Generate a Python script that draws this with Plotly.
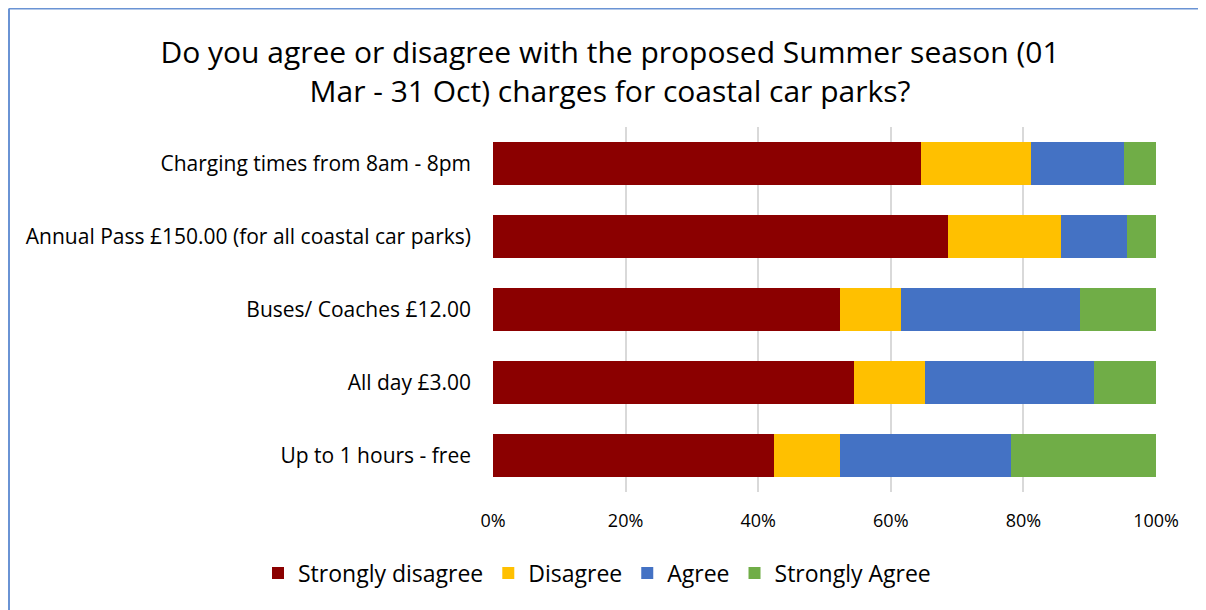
import plotly.graph_objects as go

# Datos (porcentaje de respuestas)
categorias = [
    "Charging times from 8am - 8pm",
    "Annual Pass £150.00 (for all coastal car parks)",
    "Buses/ Coaches £12.00",
    "All day £3.00",
    "Up to 1 hours - free",
]
muy_desacuerdo = [64.6, 68.7, 52.3, 54.5, 42.4]
desacuerdo = [16.5, 16.9, 9.3, 10.6, 9.9]
acuerdo = [14.0, 10.1, 26.9, 25.5, 25.8]
muy_acuerdo = [4.9, 4.3, 11.5, 9.4, 21.9]

series = [
    ("Strongly disagree", muy_desacuerdo, "#8B0000"),
    ("Disagree", desacuerdo, "#FFC000"),
    ("Agree", acuerdo, "#4472C4"),
    ("Strongly Agree", muy_acuerdo, "#70AD47"),
]

fuente = "Open Sans, Liberation Sans, sans-serif"

# Medidas de la figura (la página añade 8 px de margen al cuerpo)
ancho, alto = 1198, 602
izq, arr, der, aba = 485, 119, 1148, 484
alto_plot = aba - arr
ancho_plot = der - izq

fig = go.Figure()
for nombre, valores, color in series:
    fig.add_trace(go.Bar(
        y=categorias,
        x=[v / 100 for v in valores],
        name=nombre,
        orientation="h",
        marker=dict(color=color, line=dict(width=0)),
    ))

fig.update_layout(
    barmode="stack",
    bargap=0.42,
    width=ancho,
    height=alto,
    margin=dict(l=izq, r=ancho - der, t=arr, b=alto - aba, autoexpand=False),
    plot_bgcolor="white",
    paper_bgcolor="white",
    font=dict(family=fuente, size=20, color="#000000"),
    title=dict(
        text="Do you agree or disagree with the proposed Summer season (01<br>Mar - 31 Oct) charges for coastal car parks?",
        x=(602 - izq) / ancho_plot,
        xref="paper",
        xanchor="center",
        y=1 - 55 / alto,
        yanchor="middle",
        font=dict(family=fuente, size=30, color="#000000"),
    ),
    legend=dict(
        orientation="h",
        x=(250 - izq) / ancho_plot,
        xanchor="left",
        y=(aba - 565) / alto_plot,
        yanchor="middle",
        font=dict(family=fuente, size=23),
        traceorder="normal",
        itemwidth=30,
    ),
    xaxis=dict(
        range=[0, 1],
        tickformat=".0%",
        tickvals=[0, 0.2, 0.4, 0.6, 0.8, 1.0],
        showgrid=True,
        gridcolor="#D9D9D9",
        gridwidth=2,
        zeroline=False,
        showline=False,
        ticks="",
        ticklabelstandoff=16,
        tickfont=dict(size=18),
    ),
    yaxis=dict(
        autorange="reversed",
        showgrid=False,
        zeroline=False,
        ticks="",
        ticklabelstandoff=21,
        tickfont=dict(size=21),
    ),
    shapes=[
        # Borde del cuadro del gráfico (izquierda y arriba)
        dict(type="line", xref="paper", yref="paper",
             x0=(1 - izq) / ancho_plot, x1=(1 - izq) / ancho_plot,
             y0=(aba - 0.5) / alto_plot, y1=-0.6,
             line=dict(color="#6A93D4", width=2)),
        dict(type="line", xref="paper", yref="paper",
             x0=(1 - izq) / ancho_plot, x1=1.2,
             y0=(aba - 0.5) / alto_plot, y1=(aba - 0.5) / alto_plot,
             line=dict(color="#6A93D4", width=2)),
    ],
)

fig.write_html("out.html")
